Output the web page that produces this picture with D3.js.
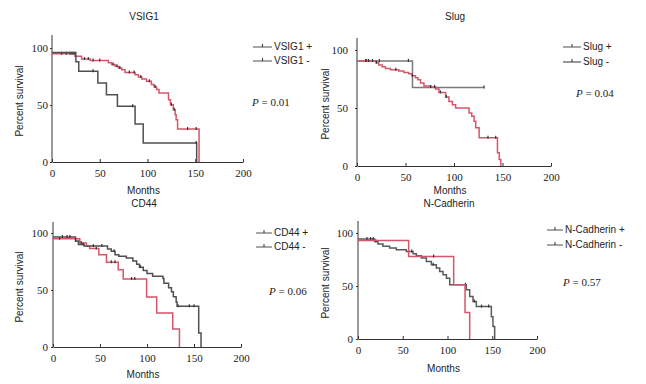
<!DOCTYPE html>
<html><head><meta charset="utf-8">
<script src="https://cdn.jsdelivr.net/npm/d3@7"></script>
<style>
body{margin:0;background:#fff;}
svg{display:block;}
.sans{font-family:"Liberation Sans",Arial,sans-serif;font-size:10px;fill:#222;}
.serif{font-family:"Liberation Serif","Times New Roman",serif;font-size:11px;fill:#222;}
</style>
</head><body>
<svg id="chart" width="646" height="384"></svg>
<script>
// ---------------- DATA ----------------
const titles = ["VSIG1", "Slug", "CD44", "N-Cadherin"];
const legendLabels = [["VSIG1 +", "VSIG1 -"], ["Slug +", "Slug -"], ["CD44 +", "CD44 -"], ["N-Cadherin +", "N-Cadherin -"]];
const pValues = ["0.01", "0.04", "0.06", "0.57"];
const xTicks = [0, 50, 100, 150, 200];
const yTicks = [0, 50, 100];
const xLabel = "Months";
const yLabel = "Percent survival";

// step curves: [month, percent survival from this month on]
const vsig1Red = [[0,95],[24,92.7],[31,90.3],[40,89],[59,87],[62.5,85.5],[66,84],[69.5,82.5],[73,81],[76.5,78.6],[87,76.5],[90.5,74.5],[94,72.8],[99,70.8],[104,68],[107,65.8],[109.5,63.5],[112,60.5],[122,54.7],[124,50.3],[127,45.9],[129,41.5],[130,37],[131.5,29],[154,0]];
const vsig1RedCens = [10,15,19,21,23,34,38,43,50,64,68,71,81,86,93,102,108,125,128,142,151];
const vsig1Dark = [[0,96],[25,88],[28,79.5],[48,69.3],[57,59],[68.5,48.8],[87,33.3],[95.5,16.7],[151.5,0]];
const vsig1DarkCens = [43,84.5,151];

const slugRed = [[0,90.6],[19.7,89],[22.4,87],[25.9,85.5],[29.3,84],[34.5,83],[43.1,82],[48.3,80.6],[53.4,79.5],[56.9,77.7],[60.3,76],[62.8,74.3],[65.5,71.5],[69,69],[75.9,68],[81,66.3],[84.5,63.4],[91.4,59.4],[94.8,55.7],[98.3,52.9],[101.7,50],[115.5,45.7],[118.3,42.9],[120.7,38.6],[122.4,32.9],[125.9,24.3],[144.8,11.4],[146.6,5.7],[148.3,0]];
const slugRedCens = [9,12,16,20,40,57,76,80,86,92,135,143];
const slugGray = [[0,90.6],[57.2,67.7],[131,67.7]];
const slugGrayCens = [10,23,53,131];

const cd44Red = [[0,95],[28.5,91.2],[35.6,88.3],[39,86.5],[48.8,81],[56.9,74.3],[69.4,67.8],[74.7,59.6],[99.6,43.9],[110.3,29.8],[127.4,15.8],[134.5,0]];
const cd44RedCens = [7,30,46,62,66,83.6,87];
const cd44Dark = [[0,96.5],[24,93],[27,90],[33,88.5],[58,86],[62,84],[66,81],[70,79.5],[78,78],[85,75.5],[89,72.5],[92,70],[96,67],[100,64.5],[106,62],[117,60],[118,56],[123,52],[126,48.5],[128,44],[131,39.5],[132,35.7],[155,12.3],[157.5,0]];
const cd44DarkCens = [10,15,18,24,32,43,52,65,93,133,145,150];

const ncadRed = [[0,93],[56.6,77.9],[106.9,51.1],[119.6,24.9],[124.8,0]];
const ncadRedCens = [84.5];
const ncadDark = [[0,94.3],[18.6,92],[22.3,89.6],[27.9,87.4],[35.4,85.8],[42.8,84.2],[54,82.6],[61.5,80.4],[65.2,78.5],[70.8,76.3],[76.4,73.2],[82,70],[87.5,66.9],[91.3,63.7],[95,60.6],[98.8,57.4],[102.5,51.1],[121,46.4],[124.8,40],[128.5,35.3],[132.2,30.6],[149,21.1],[150.8,11.7],[152.7,0]];
const ncadDarkCens = [10,14,17,20,60,84,120,130,138,146];

// ---------------- LAYOUT ----------------
const RED = "#d4566a", DARK = "#505050", GRAY = "#7a7a7a";
const panels = [
  {x0:52, x1:243, y0:162, y100:48, yTop:35, ylGap:4, title:[144,20], ylab:[19,101], xlab:190,
   leg:{x:253, y:[46,60], len:19, colors:[DARK,DARK]}, p:[252,102],
   curves:[{d:vsig1Red,c:vsig1RedCens,col:RED},{d:vsig1Dark,c:vsig1DarkCens,col:DARK}]},
  {x0:357, x1:551, y0:166, y100:50, yTop:38, ylGap:9, title:[455,20], ylab:[325,104], xlab:190,
   leg:{x:563, y:[46,61], len:18, colors:[DARK,"#999"]}, p:[576,93],
   curves:[{d:slugGray,c:slugGrayCens,col:GRAY},{d:slugRed,c:slugRedCens,col:RED}]},
  {x0:53, x1:241, y0:347, y100:233, yTop:222, ylGap:5, title:[144,207], ylab:[19,287], xlab:374,
   leg:{x:256, y:[232,246], len:16, colors:[DARK,DARK]}, p:[269,291],
   curves:[{d:cd44Red,c:cd44RedCens,col:RED},{d:cd44Dark,c:cd44DarkCens,col:DARK}]},
  {x0:358, x1:537, y0:339, y100:233, yTop:221, ylGap:5, title:[449,207], ylab:[325,283], xlab:368,
   leg:{x:547, y:[229,244], len:16, colors:[DARK,DARK]}, p:[563,282],
   curves:[{d:ncadDark,c:ncadDarkCens,col:"#5a5a5a"},{d:ncadRed,c:ncadRedCens,col:RED}]}
];

const svg = d3.select("#chart");

function survAt(steps, t){
  let v = steps[0][1];
  for (const s of steps){ if (s[0] <= t) v = s[1]; }
  return v;
}

panels.forEach((P, i) => {
  const x = d3.scaleLinear().domain([0,200]).range([P.x0, P.x1]);
  const y = d3.scaleLinear().domain([0,100]).range([P.y0, P.y100]);
  const g = svg.append("g");

  // axes
  const xAxis = d3.axisBottom(x).tickValues(xTicks).tickSizeInner(-3).tickSizeOuter(0).tickPadding(7);
  const gx = g.append("g").attr("transform", `translate(0,${P.y0})`).call(xAxis);
  gx.select(".domain").attr("stroke", "#333");
  gx.selectAll(".tick line").attr("stroke", "#333");
  gx.selectAll(".tick text").attr("class","serif").attr("fill","#222").style("font-size","11px");

  const yAxis = d3.axisLeft(y).tickValues(yTicks).tickSize(2).tickPadding(P.ylGap - 2);
  const gy = g.append("g").attr("transform", `translate(${P.x0},0)`).call(yAxis);
  gy.select(".domain").remove();
  g.append("line").attr("x1",P.x0).attr("x2",P.x0).attr("y1",P.y0).attr("y2",P.yTop).attr("stroke","#333");
  gy.selectAll(".tick line").attr("stroke", "#333");
  gy.selectAll(".tick text").attr("class","serif").attr("fill","#222").style("font-size","11px");

  // curves
  const line = d3.line().x(d => x(d[0])).y(d => y(d[1])).curve(d3.curveStepAfter);
  P.curves.forEach(cv => {
    g.append("path").datum(cv.d).attr("d", line).attr("fill","none")
      .attr("stroke", cv.col).attr("stroke-width", 1.5).attr("stroke-linejoin","miter");
    g.selectAll(null).data(cv.c).enter().append("line")
      .attr("x1", t => x(t)).attr("x2", t => x(t))
      .attr("y1", t => y(survAt(cv.d, t)) - 2).attr("y2", t => y(survAt(cv.d, t)) + 1)
      .attr("stroke", "#333").attr("stroke-width", 1.2);
  });

  // texts
  g.append("text").attr("class","sans").attr("x",P.title[0]).attr("y",P.title[1])
    .attr("text-anchor","middle").text(titles[i]);
  g.append("text").attr("class","sans").attr("x", (P.x0 + P.x1)/2 - 4).attr("y", P.xlab + 3.5)
    .attr("text-anchor","middle").text(xLabel);
  g.append("text").attr("class","sans")
    .attr("transform", `translate(${P.ylab[0] + 3.5},${P.ylab[1]}) rotate(-90)`)
    .attr("text-anchor","middle").text(yLabel);

  // legend
  legendLabels[i].forEach((lab, k) => {
    const ly = P.leg.y[k];
    const col = P.leg.colors[k];
    g.append("line").attr("x1",P.leg.x).attr("x2",P.leg.x + P.leg.len).attr("y1",ly+1).attr("y2",ly+1)
      .attr("stroke", col).attr("stroke-width", col === "#999" ? 2 : 1);
    g.append("line").attr("x1",P.leg.x + P.leg.len/2).attr("x2",P.leg.x + P.leg.len/2).attr("y1",ly+1).attr("y2",ly-2)
      .attr("stroke", "#333").attr("stroke-width", 1);
    g.append("text").attr("class","sans").attr("x", P.leg.x + P.leg.len + 2).attr("y", ly + 4).text(lab);
  });

  const pt = g.append("text").attr("class","serif").attr("x",P.p[0]).attr("y",P.p[1] + 4).style("font-size","11px");
  pt.append("tspan").style("font-style","italic").text("P");
  pt.append("tspan").text(" = " + pValues[i]);
});
</script>
</body></html>
